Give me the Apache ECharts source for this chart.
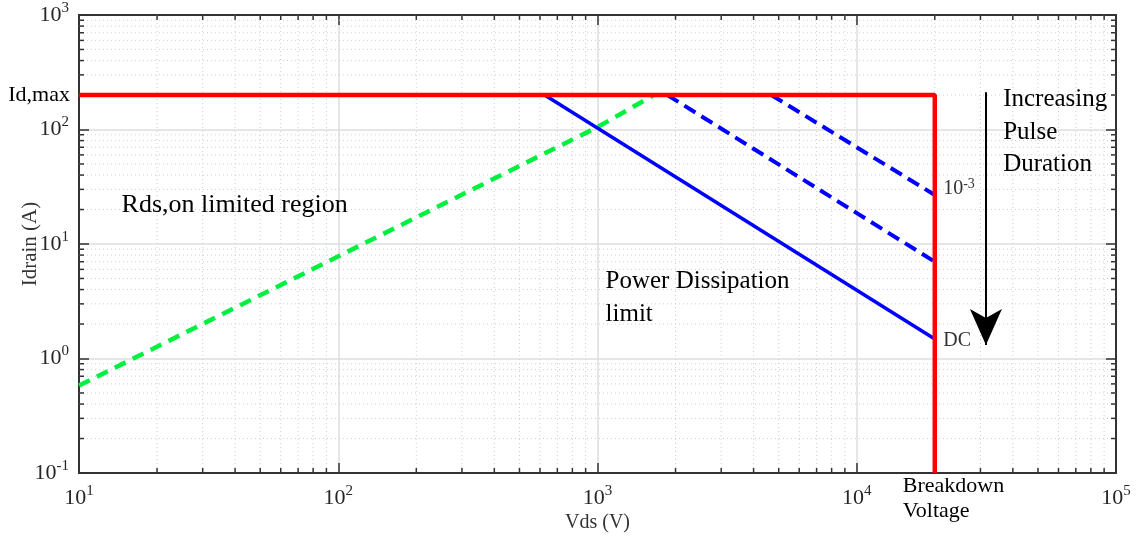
<!DOCTYPE html>
<html>
<head>
<meta charset="utf-8">
<script src="https://cdn.jsdelivr.net/npm/echarts@6/dist/echarts.min.js"></script>
<style>
  html, body { margin: 0; background: #fff; }
  #soa { width: 1137px; height: 537px; }
</style>
</head>
<body>
<div id="soa"></div>
<script>
  // safe operating area (Vds in V, Idrain in A)
  const xDecades = [10, 100, 1000, 10000, 100000]
  const yDecades = [0.1, 1, 10, 100, 1000]
  const minorSteps = [2, 3, 4, 5, 6, 7, 8, 9]

  const limitLine = [[10, 200], [20000, 200], [20000, 0.1]]
  const rdsOnLine = [[10, 0.58], [1000, 105], [1650, 200]]
  const dcLine = [[625, 200], [20000, 1.48]]
  const pulseShort = [[4680, 200], [20000, 26.8]]
  const pulseMid = [[1860, 200], [20000, 7.0]]
  const arrowLine = [[31500, 212], [31500, 1.31]]

  const notes = [
    { pos: [14.6, 21.9], text: 'Rds,on limited region', size: 26, color: '#000' },
    { pos: [1074, 3.4], text: 'Power Dissipation\nlimit', size: 25, color: '#000', lh: 33 },
    { pos: [36700, 95], text: 'Increasing\nPulse\nDuration', size: 25, color: '#000', lh: 32.5 },
    { pos: [21550, 30.2], text: '{b|10}{s|-3}', size: 20, color: '#333' },
    { pos: [21550, 1.42], text: 'DC', size: 20, color: '#333' }
  ]

  const xMinor = []
  xDecades.slice(0, -1).forEach(d => minorSteps.forEach(m => xMinor.push([d * m, 1])))
  const yMinor = []
  yDecades.slice(0, -1).forEach(d => minorSteps.forEach(m => yMinor.push([10, d * m])))

  const chart = echarts.init(document.getElementById('soa'))
  const font = '"Liberation Serif", "DejaVu Serif", serif'
  const axisColor = '#333'

  const powLabel = v => `{b|10}{s|${Math.round(Math.log10(v))}}`
  const powRich = {
    b: { fontFamily: font, fontSize: 22, color: '#262626' },
    s: { fontFamily: font, fontSize: 15, color: '#262626', verticalAlign: 'top', padding: [0, 0, 14, 0] }
  }

  const minorRender = vertical => (params, api) => {
    const cs = params.coordSys
    const children = []
    if (vertical) {
      const px = api.coord([api.value(0), 1])[0]
      const b = cs.y + cs.height
      children.push(
        { type: 'line', shape: { x1: px, y1: cs.y, x2: px, y2: b }, style: { stroke: '#cfcfcf', lineWidth: 1, lineDash: [1, 3] } },
        { type: 'line', shape: { x1: px, y1: b, x2: px, y2: b - 5 }, style: { stroke: axisColor, lineWidth: 1.5 } },
        { type: 'line', shape: { x1: px, y1: cs.y, x2: px, y2: cs.y + 5 }, style: { stroke: axisColor, lineWidth: 1.5 } }
      )
    } else {
      const py = api.coord([10, api.value(1)])[1]
      const r = cs.x + cs.width
      children.push(
        { type: 'line', shape: { x1: cs.x, y1: py, x2: r, y2: py }, style: { stroke: '#cfcfcf', lineWidth: 1, lineDash: [1, 3] } },
        { type: 'line', shape: { x1: cs.x, y1: py, x2: cs.x + 5, y2: py }, style: { stroke: axisColor, lineWidth: 1.5 } },
        { type: 'line', shape: { x1: r, y1: py, x2: r - 5, y2: py }, style: { stroke: axisColor, lineWidth: 1.5 } }
      )
    }
    return { type: 'group', children }
  }

  const baseAxis = {
    type: 'log',
    logBase: 10,
    axisLine: { show: true, lineStyle: { color: axisColor, width: 2 } },
    axisTick: { show: true, inside: true, length: 10, lineStyle: { color: axisColor, width: 1.5 } }
  }

  const option = {
    animation: false,
    backgroundColor: '#fff',
    grid: { left: 79, right: 21, top: 15, bottom: 64, containLabel: false, outerBoundsMode: 'none' },
    xAxis: [
      {
        ...baseAxis,
        min: 10, max: 100000,
        position: 'bottom',
        axisLabel: { formatter: powLabel, rich: powRich, margin: 11 },
        splitLine: { show: true, lineStyle: { color: '#dedede', width: 1.5 } },
        name: 'Vds (V)',
        nameLocation: 'middle',
        nameGap: 40,
        nameMoveOverlap: false,
        nameTextStyle: { fontFamily: font, fontSize: 20, color: '#333' }
      },
      {
        ...baseAxis,
        min: 10, max: 100000,
        position: 'top',
        axisLabel: { show: false },
        splitLine: { show: false }
      }
    ],
    yAxis: [
      {
        ...baseAxis,
        min: 0.1, max: 1000,
        position: 'left',
        axisLabel: { formatter: powLabel, rich: powRich, margin: 10 },
        splitLine: { show: true, lineStyle: { color: '#dedede', width: 1.5 } },
        name: 'Idrain (A)',
        nameLocation: 'middle',
        nameGap: 38,
        nameMoveOverlap: false,
        nameTextStyle: { fontFamily: font, fontSize: 21, color: '#333' }
      },
      {
        ...baseAxis,
        min: 0.1, max: 1000,
        position: 'right',
        axisLabel: { show: false },
        splitLine: { show: false }
      }
    ],
    series: [
      { type: 'custom', silent: true, z: 1, renderItem: minorRender(true), data: xMinor },
      { type: 'custom', silent: true, z: 1, renderItem: minorRender(false), data: yMinor },
      {
        type: 'line', data: rdsOnLine, symbol: 'none', z: 3,
        lineStyle: { color: '#00f040', width: 4.5, type: [12, 8] }
      },
      {
        type: 'line', data: dcLine, symbol: 'none', z: 3,
        lineStyle: { color: '#0000ff', width: 3.5 }
      },
      {
        type: 'line', data: pulseMid, symbol: 'none', z: 3,
        lineStyle: { color: '#0000ff', width: 4, type: [13, 7] }
      },
      {
        type: 'line', data: pulseShort, symbol: 'none', z: 3,
        lineStyle: { color: '#0000ff', width: 4, type: [13, 7] }
      },
      {
        type: 'line', data: limitLine, symbol: 'none', z: 4,
        lineStyle: { color: '#ff0000', width: 4.5 }
      },
      {
        type: 'line', data: [], symbol: 'none', z: 5,
        markLine: {
          silent: true,
          symbol: ['none', 'arrow'],
          symbolSize: [24, 36],
          label: { show: false },
          lineStyle: { color: '#000', width: 2, type: 'solid' },
          data: [[{ coord: arrowLine[0] }, { coord: arrowLine[1] }]]
        }
      },
      {
        type: 'scatter', symbolSize: 0, z: 6, silent: true,
        itemStyle: { opacity: 1 },
        data: notes.map(n => ({
          value: n.pos,
          label: {
            show: true, position: 'right', distance: 0, formatter: n.text,
            fontFamily: font, fontSize: n.size, color: n.color, lineHeight: n.lh || n.size + 4,
            rich: {
              b: { fontFamily: font, fontSize: n.size, color: n.color },
              s: { fontFamily: font, fontSize: 14, color: n.color, verticalAlign: 'top', padding: [0, 0, 12, 0] }
            }
          }
        }))
      },
      {
        type: 'scatter', symbolSize: 0, z: 6, silent: true, clip: false,
        itemStyle: { opacity: 1 },
        data: [
          {
            value: [10, 200],
            label: { show: true, position: 'left', distance: 9, formatter: 'Id,max', fontFamily: font, fontSize: 22, color: '#000' }
          },
          {
            value: [20000, 0.1],
            label: {
              show: true, position: 'bottom', distance: 1, align: 'left', offset: [-32, 0],
              formatter: 'Breakdown\nVoltage', fontFamily: font, fontSize: 22, color: '#000', lineHeight: 25
            }
          }
        ]
      }
    ]
  }

  chart.setOption(option)
  window.addEventListener('resize', () => {
    chart.resize()
  })
</script>
</body>
</html>
